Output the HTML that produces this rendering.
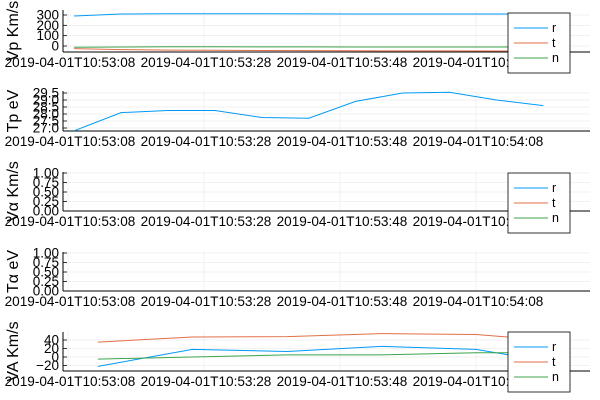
<!DOCTYPE html>
<html><head><meta charset="utf-8"><style>
html,body{margin:0;padding:0;background:#fff;}
svg{display:block;font-family:"Liberation Sans",sans-serif;}
</style></head><body>
<svg id="c" width="600" height="400" xmlns="http://www.w3.org/2000/svg"></svg>
<script>
// time offsets in seconds from 2019-04-01T10:53:08
const tickSecs = [0, 20, 40, 60];
const tickLabels = ["2019-04-01T10:53:08","2019-04-01T10:53:28","2019-04-01T10:53:48","2019-04-01T10:54:08"];
const tpTimes = [0.9, 7.8, 14.7, 21.6, 28.5, 35.4, 42.3, 49.2, 56.1, 63.0, 69.9];
const vpR = [290, 310, 312, 313, 312, 311, 310, 310, 310, 310, 310];
const vpT = [-25, -35, -40, -42, -44, -45, -46, -47, -47, -48, -48];
const vpN = [-12, -10, -8, -8, -9, -9, -10, -10, -10, -10, -10];
const tpVals = [26.8, 28.1, 28.25, 28.25, 27.75, 27.7, 28.9, 29.5, 29.55, 29.0, 28.6];
const vaTimes = [4.4, 18.3, 32.2, 46.1, 60.0, 73.9];
const vaR = [-22, 18, 13, 25, 18, -20];
const vaT = [35, 47, 48, 55, 53, 35];
const vaN = [-5, 0, 5, 5, 10, 10];
const vpTicks = [300, 200, 100, 0];
const tpTicks = [29.5, 29.0, 28.5, 28.0, 27.5, 27.0];
const unitTicks = [1.0, 0.75, 0.5, 0.25, 0.0];
const vaTicks = [40, 20, 0, -20];

const svg = document.getElementById('c');
const NS = "http://www.w3.org/2000/svg";
const X0 = 63, X1 = 590;
const colors = {r:"#009af9", t:"#e26f46", n:"#3da44d"};
function xs(s){ return 68 + 6.8*s; }
function mk(tag, attrs, parent){
  const e = document.createElementNS(NS, tag);
  for (const k in attrs) e.setAttribute(k, attrs[k]);
  (parent||svg).appendChild(e); return e;
}
function panel(cfg){
  const g = mk('g', {});
  
  
  const ys = v => cfg.py0 + (v - cfg.v0) * (cfg.py1 - cfg.py0) / (cfg.v1 - cfg.v0);
  tickSecs.forEach(s => {
    const l = mk('line', {x1:xs(s), x2:xs(s), y1:cfg.top, y2:cfg.bottom, stroke:"#e6e6e6", "stroke-width":0.6}, g);
    
    
  });
  cfg.ticks.forEach(v => {
    const l = mk('line', {x1:X0, x2:X1, y1:ys(v), y2:ys(v), stroke:"#e6e6e6", "stroke-width":0.6}, g);
    
    
    const tk = mk('line', {x1:X0, x2:X0+4, y1:ys(v), y2:ys(v), stroke:"#000", "stroke-width":0.8}, g);
    
    
    const t = mk('text', {x:X0-4, y:ys(v)+4.5, "text-anchor":"end", "font-size":13.5}, g);
    t.textContent = cfg.fmt(v);
    
    
  });
  const ay = mk('line', {x1:X0, x2:X0, y1:cfg.top, y2:cfg.bottom, stroke:"#000", "stroke-width":1}, g);
  
  
  const ax = mk('line', {x1:X0, x2:X1, y1:cfg.bottom, y2:cfg.bottom, stroke:"#000", "stroke-width":1}, g);
  
  
  tickSecs.forEach((s,i) => {
    const t = mk('text', {x:xs(s)+2, y:cfg.bottom+15, "text-anchor":"middle", "font-size":13.6}, g);
    t.textContent = tickLabels[i];
    
    
  });
  const yt = mk('text', {x:0, y:0, "text-anchor":"middle", "font-size":16, transform:`translate(18,${(cfg.top+cfg.bottom)/2}) rotate(-90)`}, g);
  yt.textContent = cfg.label;
  
  
  cfg.series.forEach(sr => {
    const pts = sr.vals.map((v,i) => xs(sr.times[i]).toFixed(1)+','+ys(v).toFixed(1)).join(' ');
    const p = mk('polyline', {points:pts, fill:"none", stroke:sr.color, "stroke-width":1}, g);
    
    
  });
  if (cfg.legend) {
    const lg = mk('g', {}, g);
    
    
    mk('rect', {x:508, y:cfg.legend, width:62, height:60, fill:"#fff", stroke:"#000", "stroke-width":0.8}, lg);
    ['r','t','n'].forEach((k,i) => {
      const yy = cfg.legend + 15 + i*15;
      const l = mk('line', {x1:514, x2:548, y1:yy, y2:yy, stroke:colors[k], "stroke-width":1}, lg);
      
      
      const t = mk('text', {x:552, y:yy+4, "font-size":12.5}, lg);
      t.textContent = k;
      
      
    });
  }
}
const f0 = v => String(v).replace('-', '\u2212');
const f1 = v => v.toFixed(1);
const f2 = v => v.toFixed(2);
panel({name:'vp', label:'Vp Km/s', top:10, bottom:52, v0:0, v1:300, py0:46, py1:15, ticks:vpTicks, fmt:f0, legend:13,
  series:[{key:'r', times:tpTimes, vals:vpR, color:colors.r},{key:'t', times:tpTimes, vals:vpT, color:colors.t},{key:'n', times:tpTimes, vals:vpN, color:colors.n}]});
panel({name:'tp', label:'Tp eV', top:91, bottom:131, v0:27.0, v1:29.5, py0:128, py1:93, ticks:tpTicks, fmt:f1,
  series:[{key:'tp', times:tpTimes, vals:tpVals, color:colors.r}]});
panel({name:'valpha', label:'V\u03b1 Km/s', top:172, bottom:211, v0:0, v1:1, py0:211, py1:173, ticks:unitTicks, fmt:f2, legend:173, series:[]});
panel({name:'talpha', label:'T\u03b1 eV', top:252, bottom:291, v0:0, v1:1, py0:291, py1:253, ticks:unitTicks, fmt:f2, series:[]});
panel({name:'va', label:'VA Km/s', top:332, bottom:371, v0:0, v1:40, py0:357, py1:340, ticks:vaTicks, fmt:f0, legend:332,
  series:[{key:'r', times:vaTimes, vals:vaR, color:colors.r},{key:'t', times:vaTimes, vals:vaT, color:colors.t},{key:'n', times:vaTimes, vals:vaN, color:colors.n}]});
</script>
</body></html>
